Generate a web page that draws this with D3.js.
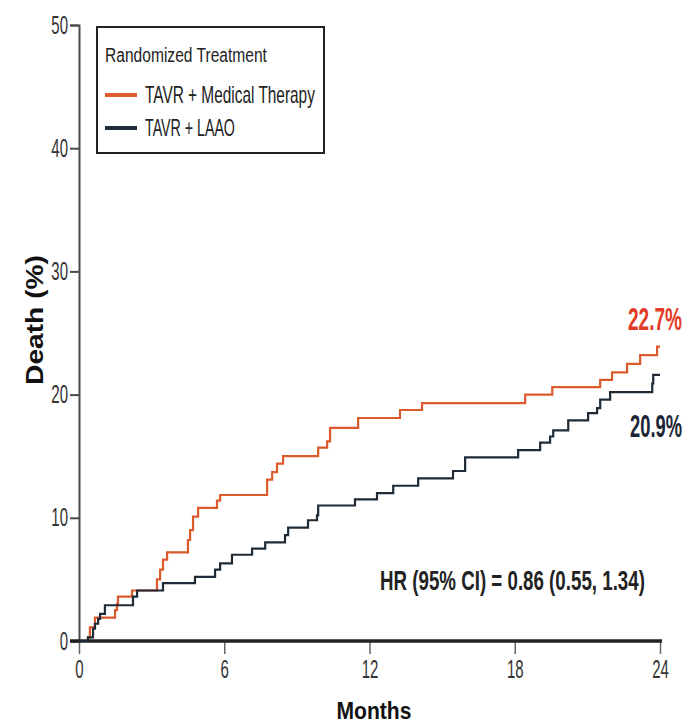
<!DOCTYPE html>
<meta charset="utf-8">
<style>

body { margin: 0; background: #fff; }
text { font-family: "Liberation Sans", Arial, sans-serif; }
.curve { fill: none; stroke-width: 2.2px; }

</style>
<body>

<script src="https://d3js.org/d3.v7.min.js"></script>
<script>

// step times (months) and cumulative death (%)
var medMonths = [0, 0.37, 0.45, 0.66, 1.49, 1.57, 1.61, 2.19, 3.22, 3.35, 3.47, 3.64, 4.50, 4.59, 4.71, 4.92, 5.70, 5.83,
                 7.77, 7.98, 8.18, 8.43, 9.88, 10.25, 10.37, 11.53, 13.26, 14.17, 18.43, 19.55, 21.53, 22.02, 22.64, 23.18, 23.88, 24];
var medDeath  = [0, 0.3, 1.1, 1.9, 2.5, 3.0, 3.6, 4.1, 5.0, 5.8, 6.6, 7.2, 8.2, 9.0, 10.1, 10.8, 11.4, 11.85,
                 13.1, 13.7, 14.4, 15.0, 15.7, 16.2, 17.3, 18.1, 18.75, 19.3, 20.0, 20.6, 21.2, 21.8, 22.5, 23.2, 23.9, 23.9];

var laaoMonths = [0, 0.37, 0.58, 0.66, 0.79, 0.87, 1.07, 2.23, 2.40, 3.47, 4.79, 5.62, 5.83, 6.32, 7.15, 7.69, 8.51, 8.64,
                  9.46, 9.83, 9.88, 11.40, 12.31, 12.98, 14.01, 15.45, 15.95, 18.14, 19.05, 19.46, 19.59, 20.21, 21.03,
                  21.40, 21.53, 21.94, 23.68, 23.72, 24];
var laaoDeath  = [0, 0.3, 1.0, 1.4, 1.8, 2.2, 2.9, 3.6, 4.1, 4.7, 5.2, 5.8, 6.3, 7.0, 7.5, 8.0, 8.6, 9.2,
                  9.8, 10.2, 11.0, 11.5, 12.0, 12.6, 13.2, 13.8, 14.9, 15.5, 16.1, 16.6, 17.1, 17.9, 18.5,
                  18.9, 19.6, 20.2, 20.9, 21.6, 21.6];

var xTicks = [0, 6, 12, 18, 24];
var yTicks = [0, 10, 20, 30, 40, 50];

var seriesNames = ["TAVR + Medical Therapy", "TAVR + LAAO"];
var seriesColors = ["#dc5a2c", "#1e2b36"];
var endLabels = ["22.7%", "20.9%"];
var endLabelColors = ["#e23a26", "#1b2536"];

var width = 690, height = 726;
var narrow = 0.6; // the figure uses a condensed face, squeeze Liberation Sans instead

var x = d3.scaleLinear().domain([0, 24]).range([79, 660]);
var y = d3.scaleLinear().domain([0, 50]).range([641, 25]);

var svg = d3.select("body").append("svg")
    .attr("width", width)
    .attr("height", height);

// put a text at (px,py) and squeeze it horizontally to a given width
function label(px, py, str, size, weight, w, color, anchor, rot) {
  var g = svg.append("g");
  var t = g.append("text")
      .attr("font-size", size)
      .attr("font-weight", weight)
      .attr("fill", color)
      .attr("text-anchor", anchor || "start")
      .text(str);
  var sx = w / t.node().getComputedTextLength();
  g.attr("transform", "translate(" + px + "," + py + ")" + (rot ? " rotate(" + rot + ")" : "") +
         " scale(" + sx + ",1)");
  return t;
}

// y axis
var yAxis = svg.append("g")
    .attr("transform", "translate(" + x(0) + ",0)")
    .call(d3.axisLeft(y).tickValues(yTicks).tickSize(9).tickPadding(2));
yAxis.select(".domain").attr("stroke", "#4a4a4a").attr("stroke-width", 2);
yAxis.selectAll(".tick line").attr("stroke", "#4a4a4a").attr("stroke-width", 2);
yAxis.selectAll(".tick text")
    .attr("font-size", 25)
    .attr("fill", "#333")
    .attr("font-family", null)
    .attr("x", -11 / narrow)
    .attr("transform", "scale(" + narrow + ",1)");

// x axis
var xAxis = svg.append("g")
    .attr("transform", "translate(0," + y(0) + ")")
    .call(d3.axisBottom(x).tickValues(xTicks).tickSize(13).tickPadding(6).tickSizeOuter(0));
xAxis.select(".domain").remove();
xAxis.selectAll(".tick line").attr("stroke", "#666").attr("stroke-width", 1.5);
xAxis.selectAll(".tick text")
    .attr("font-size", 25)
    .attr("fill", "#333")
    .attr("font-family", null)
    .attr("transform", "scale(" + narrow + ",1)");
xAxis.append("line")
    .attr("x1", x(0) - 9)
    .attr("x2", x(24) + 2)
    .attr("stroke", "#222")
    .attr("stroke-width", 3.5);

// curves
var line = d3.line()
    .x(function(d) { return x(d[0]); })
    .y(function(d) { return y(d[1]); })
    .curve(d3.curveStepAfter);

var curves = [d3.zip(medMonths, medDeath), d3.zip(laaoMonths, laaoDeath)];

svg.selectAll(".curve")
    .data(curves)
  .enter().append("path")
    .attr("class", "curve")
    .attr("stroke", function(d, i) { return seriesColors[i]; })
    .attr("d", line);

// end labels
label(628, 330, endLabels[0], 31, "bold", 54, endLabelColors[0]);
label(630, 437, endLabels[1], 31, "bold", 52, endLabelColors[1]);

// hazard ratio
label(380, 590, "HR (95% CI)  = 0.86 (0.55, 1.34)", 28, "bold", 265, "#222");

// axis titles
label(374, 719, "Months", 24, "bold", 75, "#111", "middle");
label(43, 320, "Death (%)", 24, "bold", 130, "#111", "middle", -90);

// legend
svg.append("rect")
    .attr("x", 97)
    .attr("y", 27)
    .attr("width", 227)
    .attr("height", 126)
    .attr("fill", "#fff")
    .attr("stroke", "#222")
    .attr("stroke-width", 2);

label(105, 62, "Randomized Treatment", 21, "normal", 162, "#222");

seriesNames.forEach(function(name, i) {
  var ly = 95 + i * 33;
  svg.append("line")
      .attr("x1", 105)
      .attr("x2", 137)
      .attr("y1", ly)
      .attr("y2", ly)
      .attr("stroke", seriesColors[i])
      .attr("stroke-width", 4);
  label(145, ly + 8, name, 23, "normal", i === 0 ? 170 : 90, "#222");
});

</script>
</body>
